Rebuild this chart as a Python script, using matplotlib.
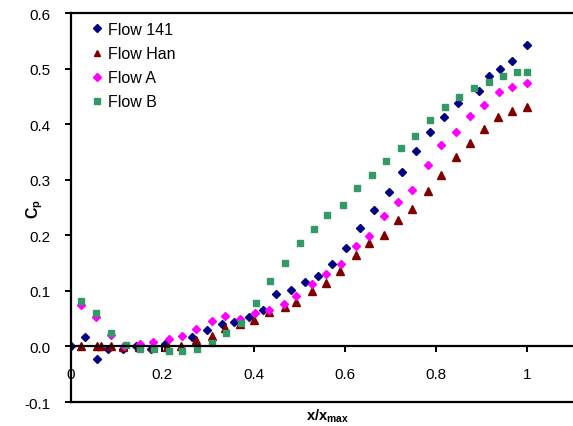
import matplotlib
matplotlib.use("Agg")
import matplotlib.pyplot as plt

plt.rcParams['font.family'] = ['Liberation Sans', 'DejaVu Sans']
plt.rcParams['mathtext.fontset'] = 'custom'
plt.rcParams['mathtext.rm'] = 'Liberation Sans'
plt.rcParams['mathtext.bf'] = 'Liberation Sans:bold'

# Flow 141
x141 = [0.0, 0.03, 0.056, 0.082, 0.113, 0.143, 0.175, 0.205, 0.265, 0.297, 0.33, 0.357,
        0.39, 0.42, 0.45, 0.481, 0.512, 0.542, 0.573, 0.603, 0.633, 0.665, 0.696, 0.726,
        0.756, 0.787, 0.818, 0.848, 0.893, 0.915, 0.94, 0.967, 1.0]
y141 = [0.0, 0.017, -0.022, -0.004, -0.004, 0.001, -0.004, 0.005, 0.017, 0.029, 0.04, 0.044,
        0.053, 0.066, 0.095, 0.101, 0.116, 0.127, 0.148, 0.177, 0.213, 0.245, 0.277, 0.313,
        0.352, 0.385, 0.413, 0.438, 0.46, 0.486, 0.5, 0.513, 0.543]

# Flow Han
xhan = [0.023, 0.056, 0.066, 0.088, 0.115, 0.148, 0.18, 0.211, 0.242, 0.275, 0.309, 0.337,
        0.371, 0.401, 0.433, 0.468, 0.494, 0.528, 0.559, 0.59, 0.625, 0.652, 0.686, 0.716,
        0.748, 0.783, 0.81, 0.844, 0.875, 0.906, 0.936, 0.966, 1.0]
yhan = [0.0, 0.0, 0.0, 0.0, -0.001, -0.001, -0.001, -0.001, 0.0, 0.011, 0.018, 0.033,
        0.04, 0.047, 0.062, 0.071, 0.08, 0.1, 0.115, 0.136, 0.165, 0.186, 0.201, 0.228,
        0.248, 0.28, 0.308, 0.341, 0.366, 0.391, 0.413, 0.424, 0.431]

# Flow A
xa = [0.022, 0.055, 0.088, 0.117, 0.152, 0.179, 0.214, 0.244, 0.275, 0.309, 0.337, 0.37,
      0.403, 0.434, 0.467, 0.494, 0.528, 0.559, 0.591, 0.625, 0.652, 0.686, 0.716, 0.748,
      0.783, 0.81, 0.844, 0.875, 0.906, 0.937, 0.966, 1.0]
ya = [0.075, 0.053, 0.02, 0.0, 0.005, 0.008, 0.013, 0.018, 0.032, 0.045, 0.054, 0.049,
      0.061, 0.066, 0.077, 0.091, 0.112, 0.131, 0.149, 0.181, 0.199, 0.234, 0.26, 0.282,
      0.327, 0.363, 0.385, 0.414, 0.435, 0.457, 0.467, 0.474]

# Flow B
xb = [0.022, 0.055, 0.088, 0.12, 0.152, 0.181, 0.215, 0.244, 0.277, 0.31, 0.339, 0.373,
      0.405, 0.435, 0.468, 0.501, 0.533, 0.562, 0.597, 0.627, 0.659, 0.691, 0.724, 0.754,
      0.786, 0.82, 0.851, 0.882, 0.915, 0.946, 0.977, 0.999]
yb = [0.081, 0.06, 0.025, 0.002, -0.004, -0.004, -0.008, -0.008, -0.004, 0.007, 0.025, 0.042,
      0.078, 0.117, 0.15, 0.187, 0.211, 0.236, 0.254, 0.285, 0.308, 0.333, 0.357, 0.379,
      0.408, 0.43, 0.448, 0.465, 0.476, 0.487, 0.494, 0.494]

xticks = [0, 0.2, 0.4, 0.6, 0.8, 1.0]
xticklabels = ['0', '0.2', '0.4', '0.6', '0.8', '1']
yticks = [-0.1, 0.0, 0.1, 0.2, 0.3, 0.4, 0.5, 0.6]
yticklabels = ['-0.1', '0.0', '0.1', '0.2', '0.3', '0.4', '0.5', '0.6']

fig = plt.figure(figsize=(5.73, 4.27), dpi=100)
ax = fig.add_axes([0.1239, 0.0562, 0.8761, 0.911])

ax.plot(x141, y141, linestyle='none', marker='D', ms=4.3, color='#000080', mec='#000080', label='Flow 141')
ax.plot(xhan, yhan, linestyle='none', marker='^', ms=5.2, color='#800000', mec='#800000', label='Flow Han')
ax.plot(xa, ya, linestyle='none', marker='D', ms=4.3, color='#FF00FF', mec='#FF00FF', label='Flow A')
ax.plot(xb, yb, linestyle='none', marker='s', ms=4.2, color='#339966', mec='#339966', label='Flow B')

ax.set_xlim(0, 1.1)
ax.set_ylim(-0.1, 0.6)

for s in ['left', 'top', 'bottom']:
    ax.spines[s].set_linewidth(1.6)
ax.spines['right'].set_visible(False)
ax.spines['bottom'].set_position(('data', 0))
ax.axhline(-0.1, color='black', lw=1.6, clip_on=False, zorder=0.5)

ax.set_xticks(xticks)
ax.set_xticklabels(xticklabels)
ax.set_yticks(yticks)
ax.set_yticklabels(yticklabels)
ax.tick_params(axis='x', direction='out', length=4.5, width=1.4, pad=10, labelsize=11)
ax.tick_params(axis='y', direction='out', length=4.5, width=1.4, pad=10, labelsize=11)

ax.set_xlabel(r'$\mathbf{x/x}_{\mathbf{max}}$', fontsize=10.5, labelpad=0)
ax.xaxis.set_label_coords(0.51, -0.012)
ax.set_ylabel(r'$\mathbf{C}_{\mathbf{p}}$', fontsize=11.5, labelpad=0)
ax.yaxis.set_label_coords(-0.052, 0.5)

leg = fig.legend(loc='upper left', bbox_to_anchor=(0.1606, 0.946), borderaxespad=0,
                 frameon=False, fontsize=11.5, handlelength=0.6, handletextpad=0.4,
                 labelspacing=0.57, markerscale=0.9, borderpad=0)

fig.savefig('out.png', dpi=100)
